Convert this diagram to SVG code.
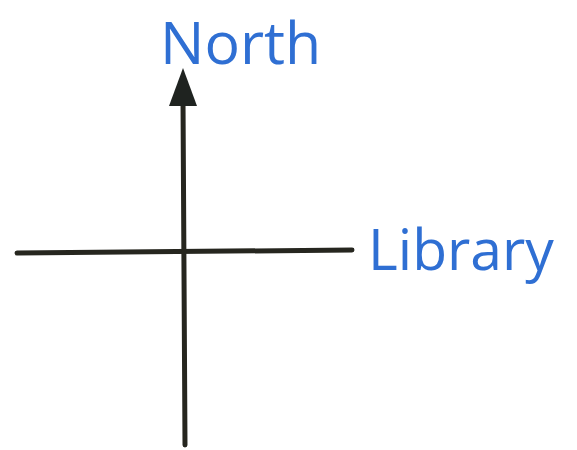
<svg xmlns="http://www.w3.org/2000/svg" width="577" height="450" viewBox="0 0 577 450">
<style>
.lbl{font-family:"Open Sans","Noto Sans",sans-serif;fill:#2f6fd3}
.ln{stroke:#26261f;stroke-width:5;fill:none;stroke-linecap:round}
.head{fill:#1f2320}
</style>
<rect width="577" height="450" fill="#ffffff"/>
<g id="connectors">
<line class="ln" x1="17" y1="253" x2="352" y2="250"/>
<line class="ln" x1="185" y1="445" x2="183" y2="100"/>
<path class="head" d="M183,68 L197,106 L169,106 Z"/>
</g>
<g id="north"><text class="lbl" x="160" y="64" font-size="59">North</text></g>
<g id="library"><text class="lbl" x="368" y="270" font-size="57">Library</text></g>
</svg>
